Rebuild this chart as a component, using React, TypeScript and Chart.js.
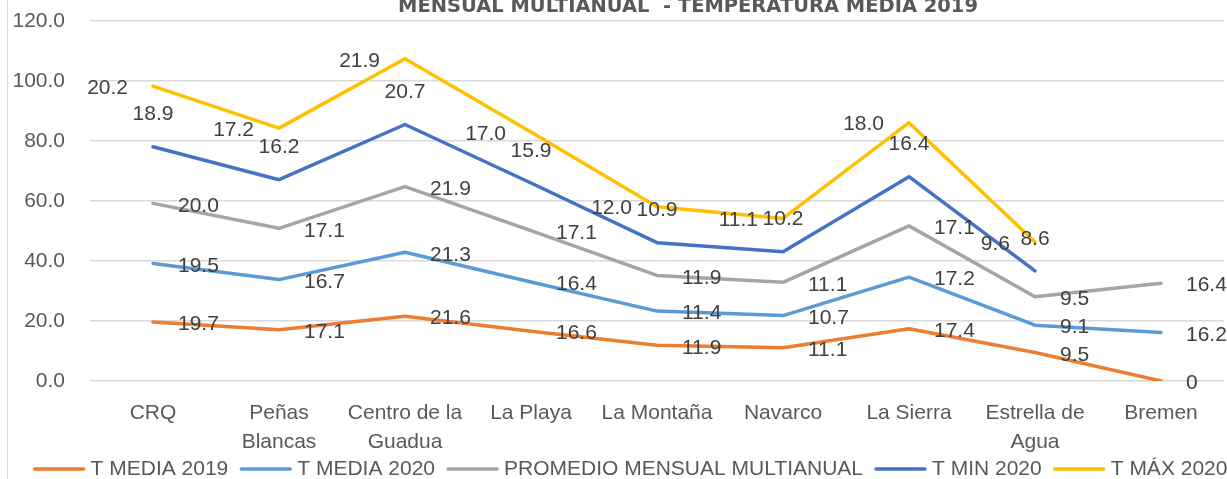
import React, { useEffect, useRef } from "react";
import { Chart, registerables } from "chart.js";

Chart.register(...registerables);

const categories: (string | string[])[] = [
  "CRQ",
  ["Peñas", "Blancas"],
  ["Centro de la", "Guadua"],
  "La Playa",
  "La Montaña",
  "Navarco",
  "La Sierra",
  ["Estrella de", "Agua"],
  "Bremen",
];
const tMedia2019: (number | null)[] = [19.7, 17.1, 21.6, 16.6, 11.9, 11.1, 17.4, 9.5, 0];
const tMedia2020: (number | null)[] = [19.5, 16.7, 21.3, 16.4, 11.4, 10.7, 17.2, 9.1, 16.2];
const promedioMultianual: (number | null)[] = [20.0, 17.1, 21.9, 17.1, 11.9, 11.1, 17.1, 9.5, 16.4];
const tMin2020: (number | null)[] = [18.9, 16.2, 20.7, 15.9, 10.9, 10.2, 16.4, 8.6, null];
const tMax2020: (number | null)[] = [20.2, 17.2, 21.9, 17.0, 12.0, 11.1, 18.0, 9.6, null];
const yTickValues = [0, 20, 40, 60, 80, 100, 120];
const seriesNames = ["T MEDIA 2019", "T MEDIA 2020", "PROMEDIO MENSUAL MULTIANUAL", "T MIN 2020", "T MÁX 2020"];
const titleText = "MENSUAL MULTIANUAL  - TEMPERATURA MEDIA 2019";

const seriesColors = ["#ED7D31", "#5B9BD5", "#A5A5A5", "#4472C4", "#FFC000"];
const labelPlacement = ["right", "right", "right", "above", "left"];
const FONT = "'Liberation Sans', Arial, sans-serif";
const TEXT_GRAY = "#595959";
const LABEL_GRAY = "#404040";

const decorPlugin = {
  id: "decor",
  beforeDraw(chart: any) {
    const ctx = chart.ctx;
    ctx.save();
    ctx.fillStyle = "#ffffff";
    ctx.fillRect(0, 0, chart.width, chart.height);
    ctx.strokeStyle = "#d9d9d9";
    ctx.lineWidth = 1;
    ctx.beginPath();
    ctx.moveTo(7.5, 0);
    ctx.lineTo(7.5, chart.height);
    ctx.stroke();
    ctx.restore();
  },
  afterDraw(chart: any) {
    const ctx = chart.ctx;
    ctx.save();
    // title (partially cut off at top)
    let size = 20;
    ctx.font = `bold ${size}px 'DejaVu Sans', sans-serif`;
    const w = ctx.measureText(titleText).width;
    size = (size * 580) / w;
    ctx.font = `bold ${size}px 'DejaVu Sans', sans-serif`;
    ctx.fillStyle = TEXT_GRAY;
    ctx.textAlign = "center";
    ctx.textBaseline = "alphabetic";
    ctx.fillText(titleText, 688, 12);

    // legend
    ctx.font = `21px ${FONT}`;
    const lineLen = 53;
    const gapText = 5;
    const gapItem = 11;
    const widths = seriesNames.map((n) => ctx.measureText(n).width);
    const total = widths.reduce((a, b) => a + b, 0) + seriesNames.length * (lineLen + gapText) + (seriesNames.length - 1) * gapItem;
    let x = 630 - total / 2;
    const y = 469;
    ctx.textAlign = "left";
    ctx.textBaseline = "middle";
    seriesNames.forEach((n, i) => {
      ctx.strokeStyle = seriesColors[i];
      ctx.lineWidth = 3.5;
      ctx.lineCap = "round";
      ctx.beginPath();
      ctx.moveTo(x + 2, y);
      ctx.lineTo(x + lineLen - 2, y);
      ctx.stroke();
      x += lineLen + gapText;
      ctx.fillStyle = TEXT_GRAY;
      ctx.fillText(n, x, y);
      x += widths[i] + gapItem;
    });
    ctx.restore();
  },
  afterDatasetsDraw(chart: any) {
    const ctx = chart.ctx;
    ctx.save();
    ctx.font = `21px ${FONT}`;
    ctx.fillStyle = LABEL_GRAY;
    ctx.textBaseline = "middle";
    chart.data.datasets.forEach((ds: any, i: number) => {
      const meta = chart.getDatasetMeta(i);
      meta.data.forEach((pt: any, j: number) => {
        const v = ds.data[j];
        if (v === null || v === undefined || pt.skip) return;
        const txt = v === 0 ? "0" : v.toFixed(1);
        const mode = labelPlacement[i];
        if (mode === "left") {
          ctx.textAlign = "right";
          ctx.fillText(txt, pt.x - 25, pt.y + 2);
        } else if (mode === "above") {
          ctx.textAlign = "center";
          ctx.fillText(txt, pt.x, pt.y - 32);
        } else {
          ctx.textAlign = "left";
          ctx.fillText(txt, pt.x + 25, pt.y + 2.5);
        }
      });
    });
    ctx.restore();
  },
};

export default function App() {
  const canvasRef = useRef<HTMLCanvasElement | null>(null);

  useEffect(() => {
    document.body.style.margin = "0";
    const canvas = canvasRef.current;
    if (!canvas) return;
    const seriesData = [tMedia2019, tMedia2020, promedioMultianual, tMin2020, tMax2020];
    const chart = new Chart(canvas, {
      type: "line",
      data: {
        labels: categories as any,
        datasets: seriesData.map((d, i) => ({
          label: seriesNames[i],
          data: d,
          borderColor: seriesColors[i],
          backgroundColor: seriesColors[i],
          borderWidth: 3.5,
          pointRadius: 0,
          pointHoverRadius: 0,
          fill: false,
          tension: 0,
          borderJoinStyle: "round" as const,
          borderCapStyle: "round" as const,
          spanGaps: false,
        })),
      },
      options: {
        responsive: false,
        animation: false,
        devicePixelRatio: 1,
        layout: { padding: { top: 21, right: 3, bottom: 0, left: 0 } },
        plugins: {
          legend: { display: false },
          title: { display: false },
          tooltip: { enabled: false },
        },
        scales: {
          x: {
            type: "category",
            offset: true,
            grid: { display: false, drawTicks: false },
            border: { display: false },
            ticks: {
              autoSkip: false,
              maxRotation: 0,
              minRotation: 0,
              padding: 17.5,
              color: TEXT_GRAY,
              font: { family: FONT, size: 21, lineHeight: 1.38 },
            },
            afterFit(scale: any) {
              scale.height = 98;
            },
          },
          y: {
            stacked: true,
            min: 0,
            max: 120,
            grid: { color: "#d9d9d9", lineWidth: 1.5, drawTicks: false },
            border: { display: false },
            ticks: {
              padding: 25,
              color: TEXT_GRAY,
              font: { family: FONT, size: 21 },
              callback: (v: any) => Number(v).toFixed(1),
            },
            afterBuildTicks(scale: any) {
              scale.ticks = yTickValues.map((v) => ({ value: v }));
            },
            afterFit(scale: any) {
              scale.width = 90;
              scale.paddingTop = 0;
              scale.paddingBottom = 0;
            },
          },
        },
      },
      plugins: [decorPlugin],
    });
    return () => chart.destroy();
  }, []);

  return (
    <div style={{ width: 1227, height: 479, position: "relative", background: "#fff" }}>
      <canvas ref={canvasRef} width={1227} height={479} style={{ display: "block", width: 1227, height: 479 }} />
    </div>
  );
}
